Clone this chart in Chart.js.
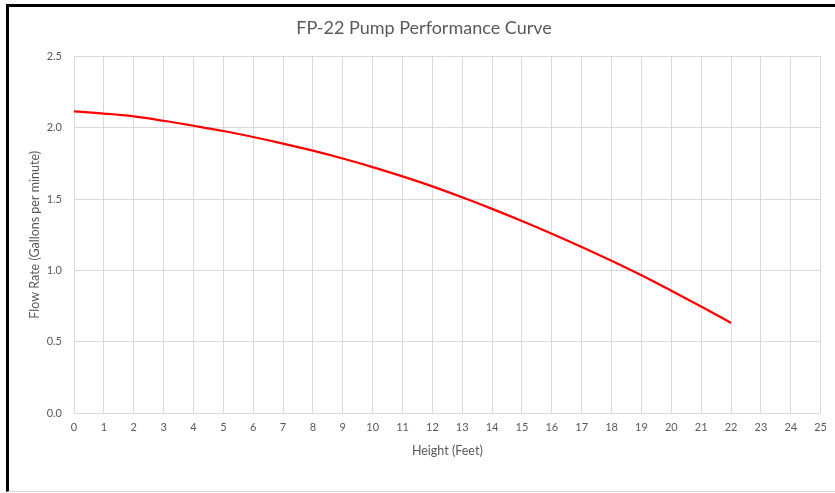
<!DOCTYPE html>
<html>
<head>
<meta charset="utf-8">
<script src="https://cdn.jsdelivr.net/npm/chart.js@4"></script>
<style>
  body { margin: 0; background: #fff; }
  #frame {
    position: absolute; left: 6px; top: 4px; width: 829px; height: 488px;
    box-sizing: border-box; border-left: 3px solid #000; border-top: 3px solid #000;
    border-bottom: 1px solid #d9d9d9;
  }
  #chart { position: absolute; left: 9px; top: 7px; }
</style>
</head>
<body>
<div id="frame"></div>
<canvas id="chart" width="826" height="484"></canvas>
<script>
const heights = [0, 1, 2, 3, 4, 5, 6, 7, 8, 9, 10, 11, 12, 13, 14, 15, 16, 17, 18, 19, 20, 21, 22];
const flowRates = [2.115, 2.10, 2.08, 2.05, 2.015, 1.978, 1.936, 1.89, 1.84, 1.785, 1.725, 1.66, 1.59, 1.513, 1.432, 1.347, 1.258, 1.165, 1.068, 0.966, 0.858, 0.747, 0.632];
const xTicks = { min: 0, max: 25, step: 1 };
const yTicks = { min: 0, max: 2.5, step: 0.5 };

const grey = "#595959";
const gridColor = "#d9d9d9";
const font = "Lato, 'Open Sans', sans-serif";

const ctx = document.getElementById("chart").getContext("2d");
new Chart(ctx, {
  type: "line",
  data: {
    datasets: [{
      label: "Flow Rate",
      data: heights.map((h, i) => ({ x: h, y: flowRates[i] })),
      borderColor: "#ff0000",
      borderWidth: 2.25,
      pointRadius: 0,
      tension: 0.4,
      fill: false,
    }],
  },
  options: {
    responsive: false,
    animation: false,
    layout: { padding: { left: 17, right: 13, top: 0, bottom: 0 } },
    plugins: {
      legend: { display: false },
      tooltip: { enabled: false },
      title: {
        display: true,
        text: "FP-22 Pump Performance Curve",
        color: grey,
        font: { family: font, size: 18, weight: "normal" },
        padding: { top: 10, bottom: 18 },
      },
    },
    scales: {
      x: {
        type: "linear",
        min: xTicks.min,
        max: xTicks.max,
        ticks: { stepSize: xTicks.step, color: grey, font: { family: font, size: 11 }, padding: 8, maxRotation: 0 },
        grid: { color: gridColor, drawTicks: false },
        border: { color: gridColor },
        title: { display: true, text: "Height (Feet)", color: grey, font: { family: font, size: 12.5 }, padding: { top: 8, bottom: 33 } },
        afterFit: (s) => { s.height = 78; },
      },
      y: {
        min: yTicks.min,
        max: yTicks.max,
        ticks: {
          stepSize: yTicks.step, color: grey, font: { family: font, size: 11 }, padding: 12,
          callback: (v) => v.toFixed(1),
        },
        grid: { color: gridColor, drawTicks: false },
        border: { display: false },
        title: { display: true, text: "Flow Rate (Gallons per minute)", color: grey, font: { family: font, size: 12.5 }, padding: { top: 1, bottom: 4 } },
        afterFit: (s) => { s.width = 48; },
      },
    },
  },
});
</script>
</body>
</html>
